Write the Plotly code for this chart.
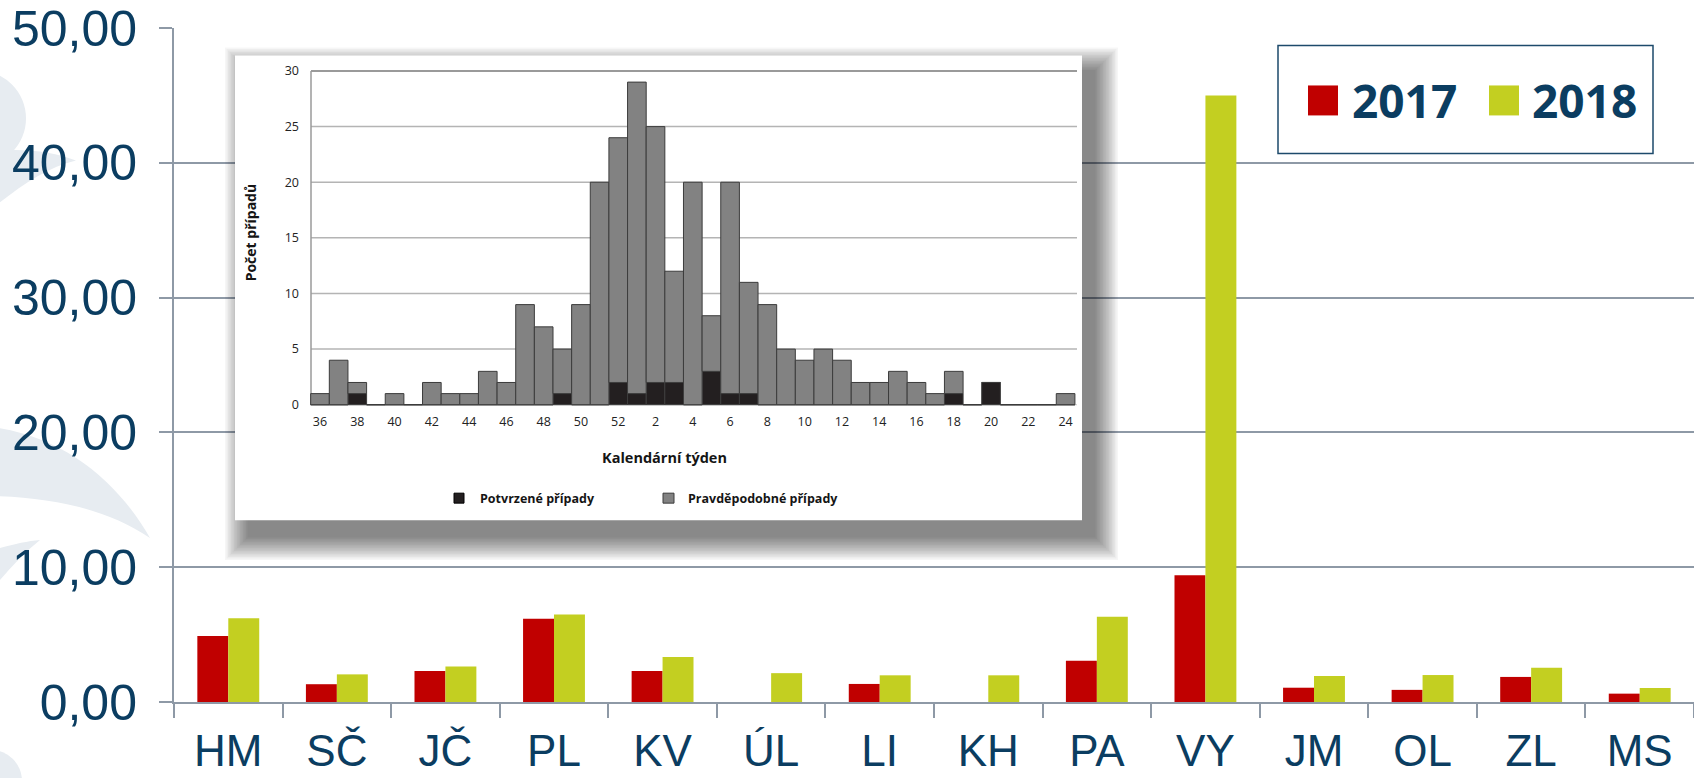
import plotly.graph_objects as go

# ---------------- data ----------------
regions = ["HM", "SČ", "JČ", "PL", "KV", "ÚL", "LI", "KH", "PA", "VY", "JM", "OL", "ZL", "MS"]
v2017 = [4.9, 1.32, 2.3, 6.18, 2.3, 0, 1.34, 0, 3.06, 9.4, 1.06, 0.9, 1.86, 0.62]
v2018 = [6.22, 2.05, 2.64, 6.5, 3.34, 2.14, 1.98, 1.98, 6.32, 45.0, 1.93, 2.0, 2.54, 1.04]
y_ticks = [0, 10, 20, 30, 40, 50]

week_labels = [str(w) for w in list(range(36, 53)) + list(range(1, 25))]
confirmed = [0, 0, 1, 0, 0, 0, 0, 0, 0, 0, 0, 0, 0, 1, 0, 0, 2,
             1, 2, 2, 0, 3, 1, 1, 0, 0, 0, 0, 0, 0, 0, 0, 0, 0, 1, 0, 2, 0, 0, 0, 0]
probable = [1, 4, 1, 0, 1, 0, 2, 1, 1, 3, 2, 9, 7, 4, 9, 20, 22,
            28, 23, 10, 20, 5, 19, 10, 9, 5, 4, 5, 4, 2, 2, 3, 2, 1, 2, 0, 0, 0, 0, 0, 1]
inset_grid = [5, 10, 15, 20, 25, 30]

# ---------------- geometry ----------------
W, H = 1694, 778
ML, MR, MT, MB = 174, 0, 27.5, 76
PW = W - ML - MR
PH = H - MT - MB

NAVY = "#0b3d61"
AXC = "#8e99a6"
RED = "#c00000"
GREEN = "#c3cf21"


def px(x):  # pixel -> paper x
    return (x - ML) / PW


def py(y):  # pixel -> paper y
    return (H - MB - y) / PH


# inset subplot area (pixels) and its data mapping
IX0, IX1, IY0, IY1 = 200, 1160, 28, 578
X_C0, X_STEP = 320.0, 18.64        # pixel centre of first week, pixels per week
Y_ZERO, Y_UNIT = 404.5, 11.133     # pixel of value 0, pixels per unit


def ix(p):
    return (p - X_C0) / X_STEP


def iy(p):
    return (Y_ZERO - p) / Y_UNIT


fig = go.Figure()

# main bars
fig.add_trace(go.Bar(x=regions, y=v2017, name="2017", marker=dict(color=RED, line=dict(width=0)),
                     offsetgroup="a", showlegend=False))
fig.add_trace(go.Bar(x=regions, y=v2018, name="2018", marker=dict(color=GREEN, line=dict(width=0)),
                     offsetgroup="b", showlegend=False))

# inset bars
idx = list(range(len(week_labels)))
fig.add_trace(go.Bar(x=idx, y=confirmed, xaxis="x2", yaxis="y2", width=1, offsetgroup="c",
                     marker=dict(color="#231f20", line=dict(color="#3c3c3c", width=1)), showlegend=False,
                     name="Potvrzené případy"))
fig.add_trace(go.Bar(x=idx, y=probable, base=confirmed, xaxis="x2", yaxis="y2", width=1, offsetgroup="c",
                     marker=dict(color="#828282", line=dict(color="#3c3c3c", width=1)), showlegend=False,
                     name="Pravděpodobné případy"))

shapes = []
WM = "#e7ecf1"
# watermark swooshes (background, paper)
shapes.append(dict(type="circle", xref="paper", yref="paper", layer="below",
                   x0=px(-70), x1=px(26), y0=py(70), y1=py(166), fillcolor=WM, line=dict(width=0)))
shapes.append(dict(type="path", xref="paper", yref="paper", layer="below",
                   path=f"M {px(0)},{py(150)} C {px(30)},{py(148)} {px(55)},{py(152)} {px(76)},{py(160)} "
                        f"C {px(50)},{py(166)} {px(25)},{py(182)} {px(0)},{py(202)} Z",
                   fillcolor=WM, line=dict(width=0)))
shapes.append(dict(type="path", xref="paper", yref="paper", layer="below",
                   path=f"M {px(0)},{py(428)} C {px(70)},{py(440)} {px(120)},{py(485)} {px(150)},{py(538)} "
                        f"C {px(110)},{py(510)} {px(55)},{py(498)} {px(0)},{py(496)} Z",
                   fillcolor=WM, line=dict(width=0)))
shapes.append(dict(type="path", xref="paper", yref="paper", layer="below",
                   path=f"M {px(0)},{py(548)} C {px(15)},{py(544)} {px(28)},{py(541)} {px(40)},{py(540)} "
                        f"C {px(25)},{py(552)} {px(12)},{py(566)} {px(0)},{py(580)} Z",
                   fillcolor=WM, line=dict(width=0)))
shapes.append(dict(type="circle", xref="paper", yref="paper", layer="below",
                   x0=px(-40), x1=px(22), y0=py(750), y1=py(812), fillcolor=WM, line=dict(width=0)))

# inset: shadow, white box (drawn in inset subplot layer, above main plot)
BX0, BY0, BX1, BY1 = 235, 55, 1082, 520
N = 16
for i in range(N):
    e = 24 * (1 - i / N)
    shapes.append(dict(type="rect", xref="x2", yref="y2", layer="below",
                       x0=ix(BX0 + 14 - e), x1=ix(BX1 + 12 + e), y0=iy(BY1 + 16 + e), y1=iy(BY0 + 16 - e),
                       fillcolor="rgba(0,0,0,0.037)", line=dict(width=0)))
shapes.append(dict(type="rect", xref="x2", yref="y2", layer="below",
                   x0=ix(BX0), x1=ix(BX1), y0=iy(BY1), y1=iy(BY0), fillcolor="white", line=dict(width=0)))
# inset gridlines, axis line
GL0, GL1 = ix(311), ix(1077)
shapes.append(dict(type="line", xref="x2", yref="y2", layer="below", x0=GL0, x1=GL1, y0=0, y1=0,
                   line=dict(color="#c8c8c8", width=1)))
for g in inset_grid:
    shapes.append(dict(type="line", xref="x2", yref="y2", layer="below", x0=GL0, x1=GL1, y0=g, y1=g,
                       line=dict(color="#9a9a9a" if g == inset_grid[-1] else "#b4b4b4",
                                 width=2 if g == inset_grid[-1] else 1.5)))
shapes.append(dict(type="line", xref="x2", yref="y2", layer="below", x0=GL0, x1=GL0, y0=0, y1=inset_grid[-1],
                   line=dict(color="#9a9a9a", width=1.5)))
# inset legend squares
shapes.append(dict(type="rect", xref="x2", yref="y2", layer="below",
                   x0=ix(454), x1=ix(464), y0=iy(503), y1=iy(493), fillcolor="#231f20",
                   line=dict(color="#000", width=1)))
shapes.append(dict(type="rect", xref="x2", yref="y2", layer="below",
                   x0=ix(663), x1=ix(674), y0=iy(503), y1=iy(493), fillcolor="#828282",
                   line=dict(color="#3c3c3c", width=1)))

# main legend box
shapes.append(dict(type="rect", xref="paper", yref="paper", layer="above",
                   x0=px(1278), x1=px(1653), y0=py(153), y1=py(45), fillcolor="white",
                   line=dict(color="#1d4a6b", width=1.5)))
shapes.append(dict(type="rect", xref="paper", yref="paper", layer="above",
                   x0=px(1308), x1=px(1338), y0=py(115), y1=py(85), fillcolor=RED, line=dict(width=0)))
shapes.append(dict(type="rect", xref="paper", yref="paper", layer="above",
                   x0=px(1489), x1=px(1519), y0=py(115), y1=py(85), fillcolor=GREEN, line=dict(width=0)))

annotations = [
    dict(text="<b>2017</b>", xref="paper", yref="paper", x=px(1350), y=py(100), xanchor="left",
         yanchor="middle", showarrow=False, font=dict(family="Open Sans", size=46, color=NAVY)),
    dict(text="<b>2018</b>", xref="paper", yref="paper", x=px(1530), y=py(100), xanchor="left",
         yanchor="middle", showarrow=False, font=dict(family="Open Sans", size=46, color=NAVY)),
    dict(text="<b>Počet případů</b>", xref="paper", yref="paper", x=px(250), y=py(232), textangle=-90,
         xanchor="center", yanchor="middle", showarrow=False,
         font=dict(family="Open Sans", size=14, color="#151515")),
    dict(text="<b>Kalendární týden</b>", xref="paper", yref="paper", x=px(664), y=py(457),
         xanchor="center", yanchor="middle", showarrow=False,
         font=dict(family="Open Sans", size=14.5, color="#151515")),
    dict(text="<b>Potvrzené případy</b>", xref="paper", yref="paper", x=px(478), y=py(498),
         xanchor="left", yanchor="middle", showarrow=False,
         font=dict(family="Open Sans", size=12.5, color="#151515")),
    dict(text="<b>Pravděpodobné případy</b>", xref="paper", yref="paper", x=px(686), y=py(498),
         xanchor="left", yanchor="middle", showarrow=False,
         font=dict(family="Open Sans", size=12.5, color="#151515")),
]

fig.update_layout(
    width=W, height=H,
    margin=dict(l=ML, r=MR, t=MT, b=MB, pad=0, autoexpand=False),
    paper_bgcolor="white", plot_bgcolor="rgba(0,0,0,0)",
    barmode="group", bargap=0.43, bargroupgap=0,
    separators=",.",
    showlegend=False,
    shapes=shapes, annotations=annotations,
    xaxis=dict(type="category", categoryorder="array", categoryarray=regions,
               range=[-0.5, len(regions) - 0.5], tickson="boundaries", automargin=False,
               ticks="outside", ticklen=14, tickwidth=2, tickcolor=AXC,
               showline=True, linecolor=AXC, linewidth=2, showgrid=False,
               tickfont=dict(family="Liberation Sans", size=44, color=NAVY),
               ticklabelstandoff=9),
    yaxis=dict(range=[0, 50], tickvals=y_ticks, tickformat=".2f", automargin=False,
               ticks="outside", ticklen=13, tickwidth=2, tickcolor=AXC,
               showline=True, linecolor=AXC, linewidth=2,
               showgrid=True, gridcolor=AXC, gridwidth=2, zeroline=False,
               tickfont=dict(family="Liberation Sans", size=50, color=NAVY),
               ticklabelstandoff=12),
    xaxis2=dict(domain=[px(IX0), px(IX1)], range=[ix(IX0), ix(IX1)], anchor="free", position=py(Y_ZERO),
                tickvals=idx[::2], ticktext=week_labels[::2], ticks="", showgrid=False, zeroline=False,
                showline=False, automargin=False, tickfont=dict(family="Open Sans", size=12.5, color="#222"),
                ticklabelstandoff=8),
    yaxis2=dict(domain=[py(IY1), py(IY0)], range=[iy(IY1), iy(IY0)], anchor="free", position=px(311),
                tickvals=[0] + inset_grid, ticks="", showgrid=False, zeroline=False, showline=False,
                automargin=False, tickfont=dict(family="Open Sans", size=12.5, color="#222"),
                ticklabelstandoff=12),
)

fig.write_html("out.html", config={"displayModeBar": False},
               post_script="document.body.style.margin='0';")
